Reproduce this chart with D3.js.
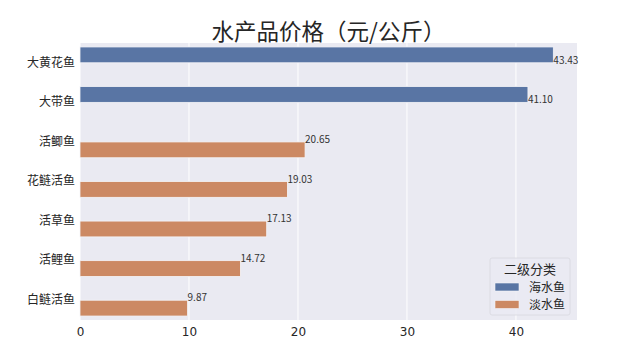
<!DOCTYPE html>
<html>
<head>
<meta charset="utf-8">
<script src="https://cdn.jsdelivr.net/npm/d3@7"></script>
<style>
  body { margin: 0; background: #fff; }
  text { font-family: "Noto Sans CJK SC", "DejaVu Sans", sans-serif; }
</style>
</head>
<body>
<div id="chart"></div>
<script>
// data
var fishNames = ["大黄花鱼", "大带鱼", "活鲫鱼", "花鲢活鱼", "活草鱼", "活鲤鱼", "白鲢活鱼"];
var fishGroups = ["海水鱼", "海水鱼", "淡水鱼", "淡水鱼", "淡水鱼", "淡水鱼", "淡水鱼"];
var fishPrices = [43.43, 41.10, 20.65, 19.03, 17.13, 14.72, 9.87];
var hueLevels = ["海水鱼", "淡水鱼"];
var xTicks = [0, 10, 20, 30, 40];

var width = 641,
    height = 361;
var margin = {top: 43, right: 64, bottom: 41, left: 80};

var rows = fishNames.map(function (d, i) {
    return {name: d, group: fishGroups[i], price: fishPrices[i]};
});

var svg = d3.select("#chart").append("svg")
    .attr("width", width)
    .attr("height", height);

var x = d3.scaleLinear()
    .domain([0, d3.max(fishPrices) * 1.05])
    .range([margin.left, width - margin.right]);

var y = d3.scaleBand()
    .domain(fishNames)
    .range([margin.top, height - margin.bottom])
    .paddingInner(0.2)
    .paddingOuter(0.1);

var ySub = d3.scaleBand()
    .domain(hueLevels)
    .range([0, y.bandwidth()]);

var color = d3.scaleOrdinal()
    .domain(hueLevels)
    .range(["#5975a4", "#cc8963"]);

// axes background
svg.append("rect")
    .attr("x", margin.left)
    .attr("y", margin.top)
    .attr("width", x.range()[1] - x.range()[0])
    .attr("height", height - margin.bottom - margin.top)
    .style("fill", "#eaeaf2");

// vertical grid
svg.selectAll(".grid")
    .data(xTicks)
    .enter().append("line")
    .attr("class", "grid")
    .attr("x1", function (d) { return x(d); })
    .attr("x2", function (d) { return x(d); })
    .attr("y1", margin.top)
    .attr("y2", height - margin.bottom)
    .style("stroke", "#fff")
    .style("stroke-width", 1);

// bars
svg.selectAll(".bar")
    .data(rows)
    .enter().append("rect")
    .attr("class", "bar")
    .attr("x", x(0))
    .attr("y", function (d) { return y(d.name) + ySub(d.group); })
    .attr("width", function (d) { return x(d.price) - x(0); })
    .attr("height", ySub.bandwidth())
    .style("fill", function (d) { return color(d.group); })
    .style("stroke", "#f4f4f8")
    .style("stroke-width", 0.8);

// value labels, baseline at the category centre
svg.selectAll(".val")
    .data(rows)
    .enter().append("text")
    .attr("class", "val")
    .attr("x", function (d) { return x(d.price); })
    .attr("y", function (d) { return y(d.name) + y.bandwidth() / 2 + 1; })
    .style("font-size", "10px")
    .style("fill", "#333")
    .text(function (d) { return d.price.toFixed(2); });

// x axis
var xAxis = svg.append("g")
    .attr("transform", "translate(0," + (height - margin.bottom) + ")")
    .call(d3.axisBottom(x).tickValues(xTicks).tickSize(0).tickPadding(7).tickFormat(d3.format("d")));
xAxis.select(".domain").remove();
xAxis.selectAll("text")
    .style("font-size", "12px")
    .style("font-family", "'DejaVu Sans', sans-serif")
    .style("fill", "#262626");

// y axis
var yAxis = svg.append("g")
    .attr("transform", "translate(" + margin.left + ",0)")
    .call(d3.axisLeft(y).tickSize(0).tickPadding(5));
yAxis.select(".domain").remove();
yAxis.selectAll("text")
    .style("font-size", "12px")
    .style("font-family", "'Noto Sans CJK SC', sans-serif")
    .style("fill", "#262626");

// title
svg.append("text")
    .attr("x", (x.range()[0] + x.range()[1]) / 2)
    .attr("y", 40)
    .attr("text-anchor", "middle")
    .style("font-size", "22.5px")
    .style("fill", "#262626")
    .text("水产品价格（元/公斤）");

// legend
var legend = svg.append("g")
    .attr("transform", "translate(490,258)");

legend.append("rect")
    .attr("width", 80)
    .attr("height", 57)
    .attr("rx", 2)
    .style("fill", "#eaeaf2")
    .style("fill-opacity", 0.8)
    .style("stroke", "#d8d8de")
    .style("stroke-width", 0.8);

legend.append("text")
    .attr("x", 40)
    .attr("y", 15.5)
    .attr("text-anchor", "middle")
    .style("font-size", "13px")
    .style("fill", "#262626")
    .text("二级分类");

var item = legend.selectAll(".item")
    .data(hueLevels)
    .enter().append("g")
    .attr("class", "item")
    .attr("transform", function (d, i) { return "translate(0," + (25 + i * 17.5) + ")"; });

item.append("rect")
    .attr("x", 5)
    .attr("width", 24)
    .attr("height", 8)
    .style("fill", function (d) { return color(d); })
    .style("stroke", "#f4f4f8")
    .style("stroke-width", 0.6);

item.append("text")
    .attr("x", 39)
    .attr("y", 8.5)
    .style("font-size", "12px")
    .style("fill", "#262626")
    .text(function (d) { return d; });
</script>
</body>
</html>
